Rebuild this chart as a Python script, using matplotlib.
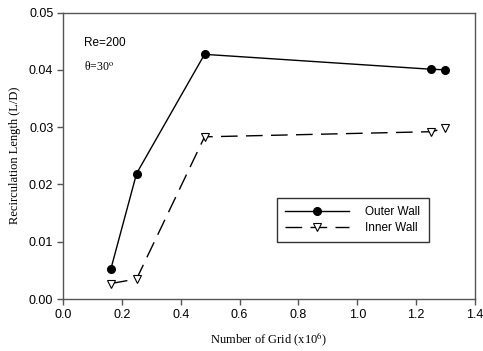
import matplotlib
matplotlib.use("Agg")
import matplotlib.pyplot as plt

plt.rcParams['mathtext.fontset'] = 'stix'

grid = [0.163, 0.250, 0.481, 1.250, 1.298]
outer = [0.0053, 0.0219, 0.0427, 0.0401, 0.0400]
inner_grid = [0.163, 0.250, 0.481, 1.252, 1.298]
inner = [0.0027, 0.0035, 0.0283, 0.0292, 0.0298]
xticks = [0.0, 0.2, 0.4, 0.6, 0.8, 1.0, 1.2, 1.4]
yticks = [0.00, 0.01, 0.02, 0.03, 0.04, 0.05]

fig = plt.figure(figsize=(4.83, 3.51), dpi=100)
ax = fig.add_axes([63/483, 1-299/351, (475-63)/483, (299-12.5)/351])

ax.plot(grid, outer, '-', color='black', lw=1.0, marker='o', ms=5.5,
        mfc='black', mec='black', label='Outer Wall', clip_on=False)
ax.plot(inner_grid, inner, color='black', lw=1.0, dashes=(12, 6), marker='v', ms=5.5,
        mfc='white', mec='black', mew=0.8, label='Inner Wall', clip_on=False)

ax.set_xlim(0, 1.4)
ax.set_ylim(0, 0.05)
ax.set_xticks(xticks)
ax.set_yticks(yticks)
ax.set_xticklabels([f"{v:.1f}" for v in xticks], family='Liberation Sans', fontsize=9)
ax.set_yticklabels([f"{v:.2f}" for v in yticks], family='Liberation Sans', fontsize=9)
for s in ax.spines.values():
    s.set_color('#555555')
    s.set_linewidth(1.0)
ax.tick_params(direction='out', length=4, color='#555555', width=1.0, pad=3)

ax.set_xlabel('Number of Grid (x10$^6$)', family='Liberation Serif', fontsize=9, labelpad=7)
ax.set_ylabel('Recirculation Length (L/D)', family='Liberation Serif', fontsize=9, labelpad=6)

ax.text(0.07, 0.0447, 'Re=200', family='Liberation Sans', fontsize=8.5, va='center')
ax.text(0.07, 0.0406, 'θ=30$^{\\rm o}$', family='Liberation Serif', fontsize=8.5, va='center')

leg = ax.legend(loc='upper left', bbox_to_anchor=((276.7-63)/412, (299-198)/286.5),
                borderaxespad=0, frameon=True, fancybox=False, edgecolor='black',
                handlelength=5.4, borderpad=0.7, labelspacing=0.3, handletextpad=1.4,
                prop={'family': 'Liberation Sans', 'size': 8.5})
leg.get_frame().set_linewidth(1.0)

fig.savefig('out.png', dpi=100)
